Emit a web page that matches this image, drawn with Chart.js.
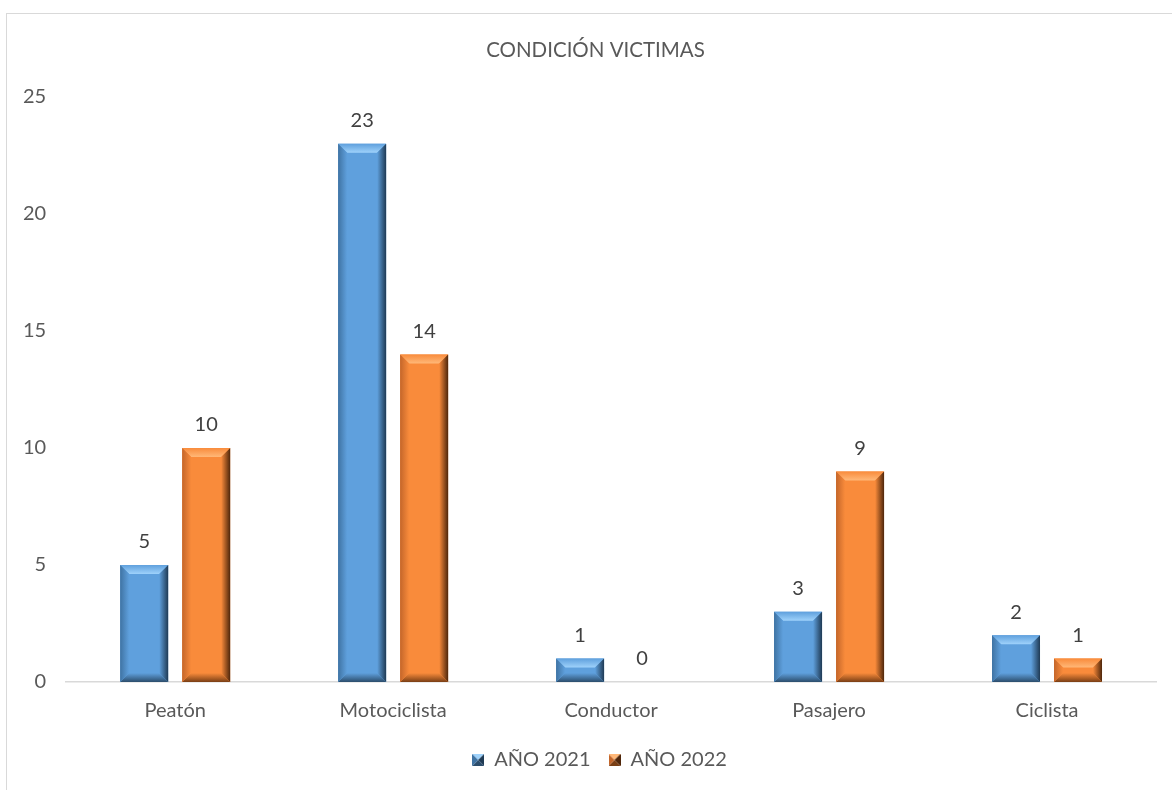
<!DOCTYPE html>
<html>
<head>
<meta charset="utf-8">
<script src="https://cdn.jsdelivr.net/npm/chart.js@4"></script>
<style>
  html, body { margin: 0; padding: 0; background: #fff; }
  #frame { position: absolute; left: 6px; top: 13px; width: 1180px; height: 800px; border: 1.5px solid #d9d9d9; }
  #wrap { position: absolute; left: 0; top: 0; width: 1172px; height: 790px; }
</style>
</head>
<body>
<div id="frame"></div>
<div id="wrap"><canvas id="chart"></canvas></div>
<script>
const categories = ['Peatón', 'Motociclista', 'Conductor', 'Pasajero', 'Ciclista'];
const values2021 = [5, 23, 1, 3, 2];
const values2022 = [10, 14, 0, 9, 1];
const seriesNames = ['AÑO 2021', 'AÑO 2022'];
const yTicks = [0, 5, 10, 15, 20, 25];

const FONT = 'Lato, "Liberation Sans", sans-serif';
const palette = [
    { base: '#5fa0dd', top: '#9fd2fb', left: '#3f73a3', right: '#1f3a54', bottom: '#2c4d6c' },
    { base: '#f98b3b', top: '#ffb878', left: '#c4662a', right: '#4e260b', bottom: '#7a3f15' }
];

// small pyramid-style legend marker
const legendIcon = (p) => {
    const c = document.createElement('canvas');
    c.width = 12; c.height = 12;
    const g = c.getContext('2d');
    const tri = (pts, col) => {
        g.fillStyle = col; g.beginPath();
        g.moveTo(pts[0], pts[1]); g.lineTo(pts[2], pts[3]); g.lineTo(pts[4], pts[5]);
        g.closePath(); g.fill();
    };
    tri([0, 0, 12, 0, 6, 6], p.top);
    tri([12, 0, 12, 12, 6, 6], p.right);
    tri([0, 12, 12, 12, 6, 6], p.bottom);
    tri([0, 0, 0, 12, 6, 6], p.left);
    return c;
};

// the original chart is wider than the screenshot, so title and legend sit a bit right of centre
const centreShift = {
    id: 'centreShift',
    afterLayout(chart) {
        if (chart.titleBlock) {
            chart.titleBlock.left += 12;
            chart.titleBlock.right += 12;
        }
        if (chart.legend) {
            chart.legend.left += 16;
            chart.legend.right += 16;
        }
    }
};

// bevel effect + value labels drawn over the library's bar elements
const bevelPlugin = {
    id: 'bevel',
    afterDatasetsDraw(chart) {
        const ctx = chart.ctx;
        chart.data.datasets.forEach((ds, di) => {
            const p = palette[di];
            chart.getDatasetMeta(di).data.forEach((bar, i) => {
                const w = bar.width;
                const x0 = bar.x - w / 2, x1 = bar.x + w / 2;
                const y0 = bar.y, y1 = bar.base;
                const h = y1 - y0;
                if (h >= 1) {
                    const b = Math.min(9, h / 2, w / 2);
                    const poly = (pts, fill) => {
                        ctx.fillStyle = fill; ctx.beginPath();
                        ctx.moveTo(pts[0], pts[1]);
                        for (let k = 2; k < pts.length; k += 2) ctx.lineTo(pts[k], pts[k + 1]);
                        ctx.closePath(); ctx.fill();
                    };
                    const grad = (ax, ay, bx, by, c0, c1) => {
                        const g = ctx.createLinearGradient(ax, ay, bx, by);
                        g.addColorStop(0, c0); g.addColorStop(1, c1);
                        return g;
                    };
                    ctx.save();
                    poly([x0, y0, x1, y0, x1 - b, y0 + b, x0 + b, y0 + b], grad(0, y0, 0, y0 + b, p.base, p.top));
                    poly([x1, y0, x1, y1, x1 - b, y1 - b, x1 - b, y0 + b], grad(x1 - b, 0, x1, 0, p.base, p.right));
                    poly([x0, y1, x1, y1, x1 - b, y1 - b, x0 + b, y1 - b], grad(0, y1 - b, 0, y1, p.base, p.bottom));
                    poly([x0, y0, x0 + b, y0 + b, x0 + b, y1 - b, x0, y1], grad(x0, 0, x0 + b, 0, p.left, p.base));
                    ctx.restore();
                }
                ctx.save();
                ctx.fillStyle = '#404040';
                ctx.font = '20px ' + FONT;
                ctx.textAlign = 'center';
                ctx.textBaseline = 'middle';
                ctx.fillText(ds.data[i], bar.x, bar.y - 23);
                ctx.restore();
            });
        });
    }
};

new Chart(document.getElementById('chart'), {
    type: 'bar',
    data: {
        labels: categories,
        datasets: [{
            label: seriesNames[0],
            data: values2021,
            backgroundColor: palette[0].base,
            pointStyle: legendIcon(palette[0])
        }, {
            label: seriesNames[1],
            data: values2022,
            backgroundColor: palette[1].base,
            pointStyle: legendIcon(palette[1])
        }]
    },
    options: {
        responsive: true,
        maintainAspectRatio: false,
        animation: false,
        categoryPercentage: 0.569,
        barPercentage: 0.774,
        layout: { padding: { left: 11, right: 16, top: 20, bottom: 10 } },
        scales: {
            x: {
                grid: { display: false },
                border: { display: true, color: '#d9d9d9', width: 1.5 },
                ticks: { color: '#595959', font: { family: FONT, size: 20 }, padding: 9 }
            },
            y: {
                min: 0, max: 25,
                afterBuildTicks: (axis) => { axis.ticks = yTicks.map(v => ({ value: v })); },
                grid: { display: false },
                border: { display: false },
                ticks: { color: '#595959', font: { family: FONT, size: 20 }, padding: 12 }
            }
        },
        plugins: {
            title: {
                display: true,
                text: 'CONDICIÓN VICTIMAS',
                color: '#595959',
                font: { family: FONT, size: 20.5, weight: 'normal' },
                padding: { top: 17.7, bottom: 34.7 }
            },
            legend: {
                position: 'bottom',
                labels: {
                    color: '#595959',
                    font: { family: FONT, size: 20 },
                    usePointStyle: true,
                    boxWidth: 12,
                    padding: 18
                }
            },
            tooltip: { enabled: false }
        }
    },
    plugins: [centreShift, bevelPlugin]
});
</script>
</body>
</html>
